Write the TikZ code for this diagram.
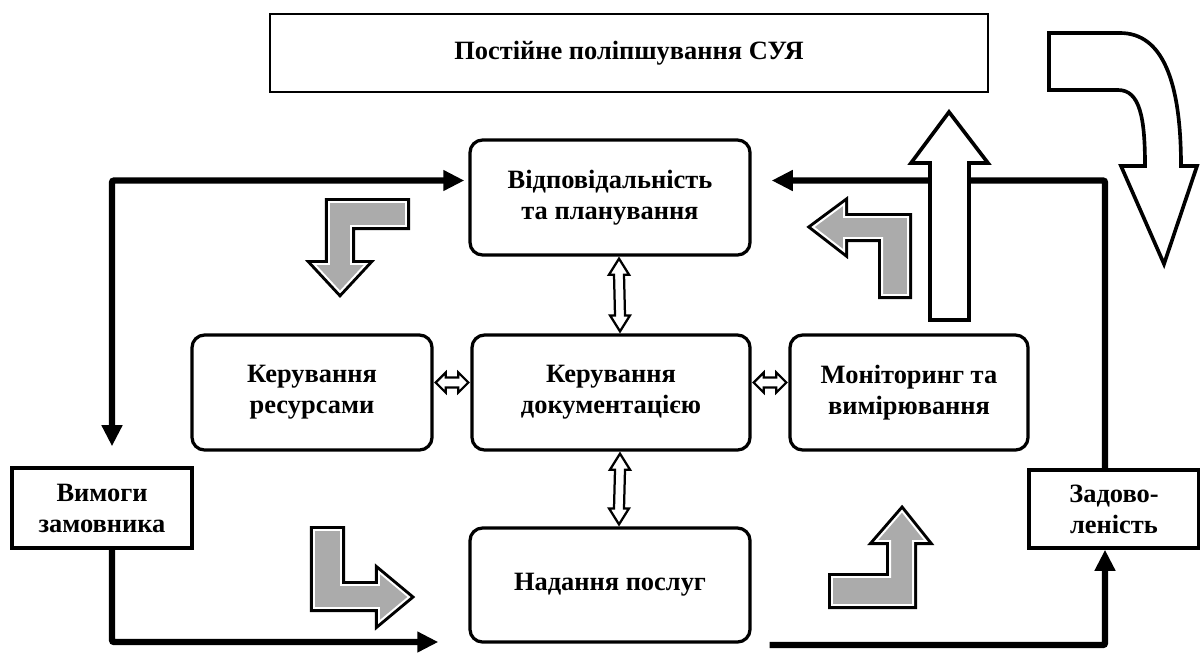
\documentclass[tikz,border=0pt]{standalone}
\usepackage{fontspec}
\setmainfont{Liberation Serif}
\usetikzlibrary{calc,arrows.meta}
\begin{document}
\begin{tikzpicture}[x=0.025cm,y=-0.025cm,
  txt/.style={font=\bfseries\fontsize{18.8}{22}\selectfont, align=center},
  rbox/.style={txt, draw, line width=2.3pt, rounded corners=9pt, minimum width=7cm, minimum height=2.875cm, inner sep=0pt},
  sbox/.style={txt, draw, line width=2.4pt, inner sep=0pt},
  conn/.style={line width=4.5pt, rounded corners=1.5pt, -{Triangle[length=15pt,width=14pt]}},
  hol/.style={draw, line width=1.6pt, fill=white, line join=miter},
  garrow/.style={draw=black, line width=5.7pt, line join=miter,
     postaction={fill=black!33}, postaction={draw=white, line width=1.4pt}},
  bigarrow/.style={draw, fill=white, line width=2.6pt, line join=miter}]
\useasboundingbox (0,0) rectangle (1200,653);

% boxes
\node[sbox, line width=1.5pt, minimum width=17.95cm, minimum height=1.95cm] (top) at (629,53) {Постійне поліпшування СУЯ};
\node[rbox] (vid) at (610,197.5) {Відповідальність\\та планування};
\node[rbox, minimum width=6cm] (res) at (312,392.5) {Керування\\ресурсами};
\node[rbox, minimum width=6.95cm] (doc) at (611,392.5) {Керування\\документацією};
\node[rbox, minimum width=5.95cm] (mon) at (909,392.5) {Моніторинг та\\вимірювання};
\node[rbox, minimum height=2.85cm] (nad) at (610,585) {Надання послуг};
\node[sbox, minimum width=4.5cm, minimum height=2cm] (vym) at (102,508) {Вимоги\\замовника};
\node[sbox, minimum width=4.25cm, minimum height=1.95cm] (zad) at (1114,509) {Задово-\\леність};

% connectors
\draw[conn, {Triangle[length=15pt,width=14pt]}-{Triangle[length=15pt,width=14pt]}]
  ($(vym.north)+(10,-20)$) |- ($(vid.west)+(-4,-17)$);
\draw[conn] ($(vym.south)+(10,0)$) |- ($(nad.west)+(-30,57)$);
\draw[conn] ($(nad.east)+(18,60)$) -| ($(zad.south)+(-9,0)$);
\draw[conn] ($(zad.north)+(-9,0)$) |- ($(vid.east)+(20,-17)$);

% hollow double arrows
\coordinate (a1) at ($(vid.south)+(9,2)$);
\coordinate (b1) at ($(doc.north)+(9,-2)$);
\draw[hol] (a1) -- ++(10,16) -- ++(-5,0) -- ($(b1)+(5,-16)$) -- ++(5,0) -- (b1) -- ++(-10,-16) -- ++(5,0) -- ($(a1)+(-5,16)$) -- ++(-5,0) -- cycle;
\coordinate (a2) at ($(doc.south)+(9,2)$);
\coordinate (b2) at ($(nad.north)+(9,-2)$);
\draw[hol] (a2) -- ++(10,16) -- ++(-5,0) -- ($(b2)+(5,-16)$) -- ++(5,0) -- (b2) -- ++(-10,-16) -- ++(5,0) -- ($(a2)+(-5,16)$) -- ++(-5,0) -- cycle;
\coordinate (a3) at ($(res.east)+(2,-10)$);
\coordinate (b3) at ($(doc.west)+(-2,-10)$);
\draw[hol] (a3) -- ++(10,-10) -- ++(0,5) -- ($(b3)+(-10,-5)$) -- ++(0,-5) -- (b3) -- ++(-10,10) -- ++(0,-5) -- ($(a3)+(10,5)$) -- ++(0,5) -- cycle;
\coordinate (a4) at ($(doc.east)+(2,-10)$);
\coordinate (b4) at ($(mon.west)+(-2,-10)$);
\draw[hol] (a4) -- ++(10,-10) -- ++(0,5) -- ($(b4)+(-10,-5)$) -- ++(0,-5) -- (b4) -- ++(-10,10) -- ++(0,-5) -- ($(a4)+(10,5)$) -- ++(0,5) -- cycle;

% gray bent arrows
\draw[garrow] (329,202) -- (406,202) -- (406,226) -- (351,226) -- (351,264) -- (366,264) -- (340,292) -- (314,264) -- (329,264) -- cycle;
\draw[garrow] (813,227) -- (844,204) -- (844,217) -- (908,217) -- (908,295) -- (882,295) -- (882,238) -- (844,238) -- (844,251) -- cycle;
\draw[garrow] (314,530) -- (341,530) -- (341,585) -- (379,585) -- (379,572) -- (409,597) -- (379,622) -- (379,608) -- (314,608) -- cycle;
\draw[garrow] (902,511) -- (926,541) -- (913,541) -- (913,605) -- (832,605) -- (832,577) -- (890,577) -- (890,541) -- (876,541) -- cycle;

% big hollow arrows
\draw[bigarrow] (949,112) -- (988,163) -- (969,163) -- (969,320) -- (930,320) -- (930,163) -- (911,163) -- cycle;
\draw[bigarrow] (1049,33) -- (1120,33) .. controls (1162,33) and (1181,80) .. (1181,166) -- (1197,166) -- (1164,264) -- (1121,166) -- (1145,166) .. controls (1145,118) and (1140,90) .. (1118,90) -- (1049,90) -- cycle;
\end{tikzpicture}
\end{document}
